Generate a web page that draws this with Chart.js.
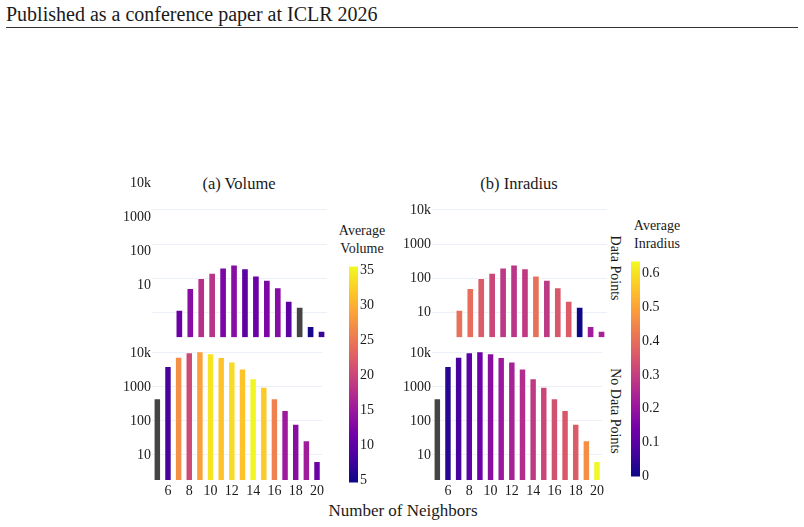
<!DOCTYPE html>
<html>
<head>
<meta charset="utf-8">
<script src="https://cdn.jsdelivr.net/npm/chart.js@4.4.0/dist/chart.umd.min.js"></script>
<style>
  body { margin: 0; background: #fff; width: 804px; height: 527px; position: relative; overflow: hidden; font-family: "Liberation Serif", serif; color: #1a1a1a; }
  canvas { position: absolute; }
  .txt { position: absolute; white-space: nowrap; line-height: 1; transform: translate(-50%, -50%); }
  .rot { transform: translate(-50%, -50%) rotate(90deg); }
</style>
</head>
<body>

<div class="txt" style="left:6px; top:14px; font-size:20px; transform: translateY(-50%);">Published as a conference paper at ICLR 2026</div>
<div style="position:absolute; left:6px; top:27px; width:792px; height:1px; background:#333;"></div>

<div class="txt" style="left:239px; top:184px; font-size:16.5px;">(a) Volume</div>
<div class="txt" style="left:519px; top:184px; font-size:16.5px;">(b) Inradius</div>

<div class="txt" style="left:362px; top:231px; font-size:14px; line-height:17.6px; text-align:center; transform: translate(-50%, -25%);">Average<br>Volume</div>
<div class="txt" style="left:657px; top:226px; font-size:14px; line-height:17.6px; text-align:center; transform: translate(-50%, -25%);">Average<br>Inradius</div>

<div class="txt rot" style="left:615px; top:268px; font-size:14px;">Data Points</div>
<div class="txt rot" style="left:615px; top:411px; font-size:14px;">No Data Points</div>

<div class="txt" style="left:403px; top:510px; font-size:17px;">Number of Neighbors</div>

<canvas id="volTop" width="225" height="182" style="left:102px; top:165px;"></canvas>
<canvas id="volBottom" width="225" height="171" style="left:102px; top:334px;"></canvas>
<canvas id="inrTop" width="225" height="182" style="left:382px; top:165px;"></canvas>
<canvas id="inrBottom" width="225" height="171" style="left:382px; top:334px;"></canvas>
<canvas id="volBar" width="39" height="237" style="left:349px; top:256px;"></canvas>
<canvas id="inrBar" width="39" height="236" style="left:631px; top:251px;"></canvas>

<script>
// Data
const neighbors = ['5', '6', '7', '8', '9', '10', '11', '12', '13', '14', '15', '16', '17', '18', '19', '20'];
const xTickLabels = ['6', '8', '10', '12', '14', '16', '18', '20'];
const yTickValues = [10, 100, 1000, 10000];

// bar heights (count of samples), per number of neighbors
const withPointsCount = [null, null, 11.9, 51.5, 101, 145, 204, 250, 194, 119, 90, 54, 22, 14.5, 4, 2.9];
const withoutPointsCount = [459, 4090, 7670, 10350, 11070, 9660, 7520, 5545, 3450, 1780, 1007, 459, 208, 82, 26.7, 6.6];

// colour values (null = grey bar)
const withPointsVolume = [null, null, 10.9, 13.4, 17.7, 18, 12.4, 13.4, 10, 11.2, 12.4, 13.4, 10, null, 5.3, 7.5];
const withoutPointsVolume = [null, 8.3, 27.3, 20.5, 28.8, 34.1, 31.6, 33.4, 31.6, 35.3, 32.2, 26, 15.2, 13.4, 15.5, 10.9];
const withPointsInradius = [null, null, 0.406, 0.40, 0.362, 0.318, 0.286, 0.279, 0.289, 0.406, 0.286, 0.353, 0.362, 0.0, 0.222, 0.235];
const withoutPointsInradius = [null, 0.032, 0.073, 0.108, 0.133, 0.178, 0.212, 0.235, 0.26, 0.289, 0.318, 0.337, 0.353, 0.362, 0.464, 0.635];

// colour bar ranges and ticks
const volumeRange = [4.7, 35.6];
const volumeTicks = [5, 10, 15, 20, 25, 30, 35];
const inradiusRange = [0, 0.635];
const inradiusTicks = [0, 0.1, 0.2, 0.3, 0.4, 0.5, 0.6];

// Plasma colour scale
const plasma = ['#0d0887', '#46039f', '#7201a8', '#9c179e', '#bd3786', '#d8576b', '#ed7953', '#fb9f3a', '#fdca26', '#f0f921'];
const missingColor = '#444444';
const fontFamily = '"Liberation Serif", serif';
const textColor = '#1a1a1a';

function hexToRgb(h) {
    return [parseInt(h.slice(1, 3), 16), parseInt(h.slice(3, 5), 16), parseInt(h.slice(5, 7), 16)];
}

function plasmaAt(t) {
    t = Math.max(0, Math.min(1, t));
    const pos = t * (plasma.length - 1);
    const i = Math.min(Math.floor(pos), plasma.length - 2);
    const f = pos - i;
    const a = hexToRgb(plasma[i]), b = hexToRgb(plasma[i + 1]);
    const c = a.map((v, k) => Math.round(v + (b[k] - v) * f));
    return `rgb(${c[0]}, ${c[1]}, ${c[2]})`;
}

function barColors(values, range) {
    return values.map(v => v === null ? missingColor : plasmaAt((v - range[0]) / (range[1] - range[0])));
}

function panel(id, counts, colorValues, range, opts) {
    const showX = opts.showX;
    new Chart(document.getElementById(id), {
        type: 'bar',
        data: {
            labels: neighbors,
            datasets: [{
                data: counts,
                backgroundColor: barColors(colorValues, range),
                borderColor: 'rgba(255, 255, 255, 0.55)',
                borderWidth: 1,
                barPercentage: 0.7,
                categoryPercentage: 1
            }]
        },
        options: {
            responsive: false,
            animation: false,
            layout: { padding: { top: opts.padTop, right: 0, bottom: 0, left: 0 } },
            plugins: { legend: { display: false }, tooltip: { enabled: false } },
            scales: {
                x: {
                    display: showX,
                    grid: { display: false, drawTicks: false },
                    border: { display: false },
                    ticks: {
                        autoSkip: false,
                        maxRotation: 0,
                        padding: 3,
                        color: textColor,
                        font: { family: fontFamily, size: 14 },
                        callback: function(val, i) {
                            const lab = neighbors[i];
                            return xTickLabels.includes(lab) ? lab : '';
                        }
                    },
                    afterFit: scale => { scale.height = showX ? 25 : 0; }
                },
                y: {
                    type: 'logarithmic',
                    min: Math.pow(10, 0.26),
                    max: Math.pow(10, 4.26),
                    grid: { color: '#ebf0f8', lineWidth: 1, drawTicks: false },
                    border: { display: false },
                    ticks: {
                        autoSkip: false,
                        padding: 1,
                        labelOffset: opts.labelOffset || 0,
                        color: textColor,
                        font: { family: fontFamily, size: 14 },
                        callback: v => v >= 10000 ? (v / 1000) + 'k' : String(v)
                    },
                    afterBuildTicks: scale => { scale.ticks = yTickValues.map(v => ({ value: v })); },
                    afterFit: scale => { scale.width = 50; }
                }
            }
        }
    });
}

function colorBar(id, range, ticks, fmt) {
    new Chart(document.getElementById(id), {
        type: 'bar',
        data: {
            labels: [''],
            datasets: [{
                data: [range],
                borderWidth: 0,
                barPercentage: 1,
                categoryPercentage: 1,
                backgroundColor: function(ctx) {
                    const area = ctx.chart.chartArea;
                    if (!area) return plasma[0];
                    const g = ctx.chart.ctx.createLinearGradient(0, area.bottom, 0, area.top);
                    plasma.forEach((c, i) => g.addColorStop(i / (plasma.length - 1), c));
                    return g;
                }
            }]
        },
        options: {
            responsive: false,
            animation: false,
            layout: { padding: { top: 10, bottom: 10, left: 0, right: 0 } },
            plugins: { legend: { display: false }, tooltip: { enabled: false } },
            scales: {
                x: { display: false },
                y: {
                    position: 'right',
                    min: range[0],
                    max: range[1],
                    grid: { display: false, drawTicks: false },
                    border: { display: false },
                    ticks: {
                        padding: 2,
                        color: textColor,
                        font: { family: fontFamily, size: 14 },
                        callback: fmt
                    },
                    afterBuildTicks: scale => { scale.ticks = ticks.map(v => ({ value: v })); },
                    afterFit: scale => { scale.width = 30; }
                }
            }
        }
    });
}

panel('volTop', withPointsCount, withPointsVolume, volumeRange, { showX: false, padTop: 36, labelOffset: -27 });
panel('volBottom', withoutPointsCount, withoutPointsVolume, volumeRange, { showX: true, padTop: 10 });
panel('inrTop', withPointsCount, withPointsInradius, inradiusRange, { showX: false, padTop: 36 });
panel('inrBottom', withoutPointsCount, withoutPointsInradius, inradiusRange, { showX: true, padTop: 10 });

colorBar('volBar', volumeRange, volumeTicks, v => String(v));
colorBar('inrBar', inradiusRange, inradiusTicks, v => v === 0 ? '0' : v.toFixed(1));
</script>
</body>
</html>
